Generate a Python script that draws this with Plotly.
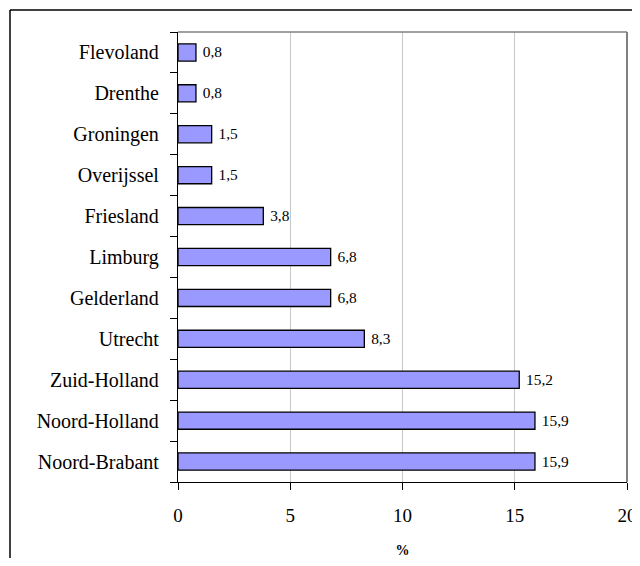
import plotly.graph_objects as go

provinces = ["Noord-Brabant", "Noord-Holland", "Zuid-Holland", "Utrecht", "Gelderland",
             "Limburg", "Friesland", "Overijssel", "Groningen", "Drenthe", "Flevoland"]
values = [15.9, 15.9, 15.2, 8.3, 6.8, 6.8, 3.8, 1.5, 1.5, 0.8, 0.8]
value_labels = [f"{v:.1f}".replace(".", ",") for v in values]
x_ticks = [0, 5, 10, 15, 20]

# page body has an 8px margin, so the figure is drawn at (8, 8); keep it inside the window
W, H = 632, 550
L, R, T, B = 170, 13, 24, 76
pw, ph = W - L - R, H - T - B

serif = "Liberation Serif"

fig = go.Figure(go.Bar(
    x=values, y=provinces, orientation="h",
    marker=dict(color="#9999FF", line=dict(color="black", width=1.3)),
    text=value_labels, texttemplate="\u00a0%{text}", textposition="outside",
    textfont=dict(family=serif, size=17, color="black"),
    cliponaxis=False, hoverinfo="skip",
))

def px(x):
    return (x - L) / pw

def py(y):
    return 1 - (y - T) / ph

shapes = [
    # outer frame (extends beyond right and bottom edges)
    dict(type="line", xref="paper", yref="paper", x0=px(2), x1=px(700), y0=py(2), y1=py(2),
         line=dict(color="black", width=1.5)),
    dict(type="line", xref="paper", yref="paper", x0=px(2), x1=px(2), y0=py(2), y1=py(700),
         line=dict(color="black", width=1.5)),
    # plot area top/right border in gray
    dict(type="line", xref="paper", yref="paper", x0=0, x1=1, y0=1, y1=1,
         line=dict(color="#808080", width=1.5)),
    dict(type="line", xref="paper", yref="paper", x0=1, x1=1, y0=0, y1=1,
         line=dict(color="#808080", width=2)),
]

fig.update_layout(
    width=W, height=H,
    margin=dict(l=L, r=R, t=T, b=B, autoexpand=False),
    paper_bgcolor="white", plot_bgcolor="white",
    showlegend=False, bargap=0.58,
    shapes=shapes,
    font=dict(family=serif, color="black"),
    xaxis=dict(
        range=[0, 20], tickvals=x_ticks, ticktext=[str(t) for t in x_ticks],
        showgrid=True, gridcolor="#C8C8C8", gridwidth=1,
        showline=True, linecolor="black", linewidth=1.3,
        ticks="outside", ticklen=7, tickcolor="black", tickwidth=1.3,
        tickfont=dict(family=serif, size=19, color="black"),
        ticklabelstandoff=9, ticklabeloverflow="allow", zeroline=False, automargin=False,
        title=dict(text="<b>%</b>", font=dict(family=serif, size=14, color="black"), standoff=28),
    ),
    yaxis=dict(
        type="category", categoryorder="array", categoryarray=provinces,
        range=[-0.5, 10.5], showgrid=False,
        showline=True, linecolor="black", linewidth=1.3,
        ticks="outside", ticklen=7, tickcolor="black", tickwidth=1.3, tickson="boundaries",
        tickfont=dict(family=serif, size=20, color="black"),
        ticklabelstandoff=14, automargin=False,
    ),
)

fig.write_html("out.html")
